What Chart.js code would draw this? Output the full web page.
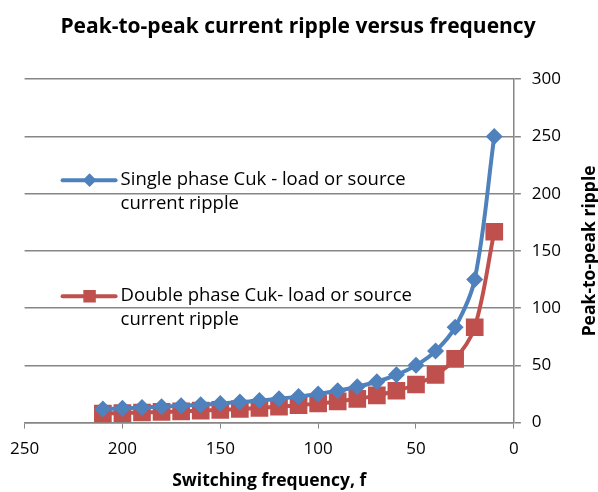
<!DOCTYPE html>
<html>
<head>
<meta charset="utf-8">
<script src="https://cdn.jsdelivr.net/npm/chart.js@4"></script>
<style>
  body { margin: 0; background: #fff; }
  #wrap { width: 598px; height: 492px; position: relative; }
</style>
</head>
<body>
<div id="wrap"><canvas id="rippleChart"></canvas></div>
<script>
const frequencies = [10, 20, 30, 40, 50, 60, 70, 80, 90, 100, 110, 120, 130, 140, 150, 160, 170, 180, 190, 200, 210];
const singlePhase = [250, 125, 83.3, 62.5, 50, 41.7, 35.7, 31.3, 27.8, 25, 22.7, 20.8, 19.2, 17.9, 16.7, 15.6, 14.7, 13.9, 13.2, 12.5, 11.9];
const doublePhase = [166.7, 83.3, 55.6, 41.7, 33.3, 27.8, 23.8, 20.8, 18.5, 16.7, 15.2, 13.9, 12.8, 11.9, 11.1, 10.4, 9.8, 9.3, 8.8, 8.3, 7.9];
const seriesNames = [
    ['Single phase Cuk - load or source', 'current ripple'],
    ['Double phase Cuk- load or source', 'current ripple']
];
const yTitle = 'Peak-to-peak ripple';

const FONT = '"Open Sans", "Liberation Sans", sans-serif';
const BLUE = '#4F81BD';
const RED = '#C0504D';

// legend sits inside the plot area, Excel style, with wrapped labels
const insideLegend = {
    id: 'insideLegend',
    afterDraw(chart) {
        const ctx = chart.ctx;
        const a = chart.chartArea;
        const rows = [
            { y: a.top + 101, color: BLUE, style: 'rectRot', r: 4, lines: seriesNames[0] },
            { y: a.top + 217, color: RED, style: 'rect', r: 6, lines: seriesNames[1] }
        ];
        ctx.save();
        rows.forEach(row => {
            ctx.strokeStyle = row.color;
            ctx.fillStyle = row.color;
            ctx.lineWidth = 4;
            ctx.lineCap = 'round';
            ctx.beginPath();
            ctx.moveTo(a.left + 38, row.y);
            ctx.lineTo(a.left + 91, row.y);
            ctx.stroke();
            Chart.helpers.drawPoint(ctx, { pointStyle: row.style, radius: row.r, borderWidth: 1 }, a.left + 65, row.y);
            ctx.fill();
            ctx.fillStyle = '#000';
            ctx.font = '18.5px ' + FONT;
            ctx.textBaseline = 'middle';
            ctx.textAlign = 'left';
            row.lines.forEach((t, i) => ctx.fillText(t, a.left + 96, row.y + i * 24));
        });

        // right axis title reads bottom-to-top like Excel
        ctx.translate(590, (a.top + a.bottom) / 2);
        ctx.rotate(-Math.PI / 2);
        ctx.font = 'bold 17.5px ' + FONT;
        ctx.textAlign = 'center';
        ctx.textBaseline = 'middle';
        ctx.fillText(yTitle, 0, 0);
        ctx.restore();
    }
};

new Chart(document.getElementById('rippleChart'), {
    type: 'line',
    data: {
        datasets: [{
            label: seriesNames[0].join(' '),
            data: frequencies.map((f, i) => ({ x: f, y: singlePhase[i] })),
            borderColor: BLUE,
            backgroundColor: BLUE,
            borderWidth: 4,
            pointStyle: 'rectRot',
            pointRadius: 8.5,
            pointBorderWidth: 0,
            tension: 0.35
        }, {
            label: seriesNames[1].join(' '),
            data: frequencies.map((f, i) => ({ x: f, y: doublePhase[i] })),
            borderColor: RED,
            backgroundColor: RED,
            borderWidth: 4,
            pointStyle: 'rect',
            pointRadius: 12.5,
            pointBorderWidth: 0,
            tension: 0.35
        }]
    },
    options: {
        responsive: true,
        maintainAspectRatio: false,
        animation: false,
        layout: { padding: { left: 24, right: 26, top: 0, bottom: 0 } },
        plugins: {
            legend: { display: false },
            tooltip: { enabled: false },
            title: {
                display: true,
                text: 'Peak-to-peak current ripple versus frequency',
                color: '#000',
                font: { family: FONT, size: 21, weight: 'bold' },
                padding: { top: 14, bottom: 40 }
            }
        },
        scales: {
            x: {
                type: 'linear',
                reverse: true,
                min: 0,
                max: 250,
                ticks: { stepSize: 50, color: '#000', font: { family: FONT, size: 17 }, padding: 10 },
                grid: { drawOnChartArea: false, drawTicks: true, tickLength: 6, color: '#868686' },
                border: { color: '#868686', width: 1.5 },
                title: {
                    display: true,
                    text: 'Switching frequency, f',
                    color: '#000',
                    font: { family: FONT, size: 17.5, weight: 'bold' },
                    padding: { top: 2, bottom: 0 }
                }
            },
            y: {
                position: 'right',
                min: 0,
                max: 300,
                ticks: { stepSize: 50, color: '#000', font: { family: FONT, size: 17 }, padding: 11 },
                grid: { color: '#868686', lineWidth: 1.5, tickLength: 7 },
                border: { color: '#868686', width: 1.5 }
            }
        }
    },
    plugins: [insideLegend]
});
</script>
</body>
</html>
